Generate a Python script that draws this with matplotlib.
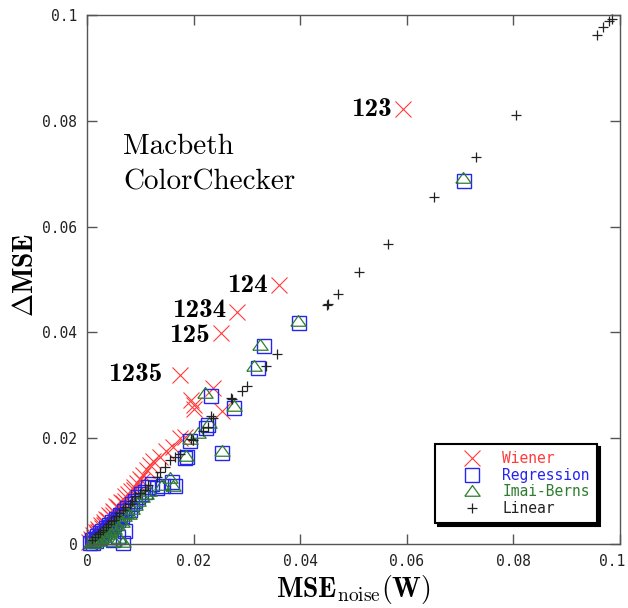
import matplotlib
matplotlib.use("Agg")
import matplotlib.pyplot as plt
from matplotlib.lines import Line2D
from matplotlib.transforms import ScaledTranslation

plt.rcParams['mathtext.fontset'] = 'cm'

# ---- data ----
wiener_x = [0.0592, 0.0360, 0.0282, 0.0252, 0.0175,
            0.0237, 0.0196, 0.0200, 0.0200, 0.0253, 0.0184, 0.0174, 0.0162, 0.0149, 0.0137, 0.0124, 0.0118,
            0.0004, 0.0007, 0.0009, 0.0012, 0.0014, 0.0016, 0.0019, 0.0021, 0.0023, 0.0026, 0.0028, 0.0031,
            0.0033, 0.0036, 0.0039, 0.0042, 0.0045, 0.0048, 0.0051, 0.0055, 0.0059, 0.0063, 0.0067, 0.0072,
            0.0077, 0.0082, 0.0088, 0.0094, 0.0100, 0.0106, 0.0112,
            0.0021, 0.0032, 0.0049, 0.0061, 0.0071, 0.0089, 0.0104]
wiener_y = [0.0822, 0.0489, 0.0438, 0.0398, 0.0320,
            0.0294, 0.0273, 0.0262, 0.0256, 0.0251, 0.0203, 0.0200, 0.0184, 0.0175, 0.0165, 0.0156, 0.0150,
            0.0003, 0.0010, 0.0006, 0.0017, 0.0012, 0.0022, 0.0018, 0.0029, 0.0024, 0.0035, 0.0031, 0.0042,
            0.0037, 0.0048, 0.0045, 0.0055, 0.0051, 0.0063, 0.0060, 0.0071, 0.0069, 0.0080, 0.0078, 0.0090,
            0.0095, 0.0101, 0.0108, 0.0116, 0.0122, 0.0131, 0.0139,
            0.0022, 0.0035, 0.0055, 0.0066, 0.0082, 0.0102, 0.0119]
combo_labels = ['123', '124', '1234', '125', '1235']  # first five Wiener points

regression_x = [0.0707, 0.0398, 0.0333, 0.0321, 0.0232, 0.0276, 0.0253, 0.0228, 0.0224, 0.0193, 0.0187,
                0.0184, 0.0165, 0.0159, 0.0143, 0.0131,
                0.0006, 0.0009, 0.0011, 0.0014, 0.0017, 0.0019, 0.0022, 0.0024, 0.0027, 0.0029, 0.0032,
                0.0035, 0.0038, 0.0041, 0.0044, 0.0047, 0.0050, 0.0054, 0.0058, 0.0062, 0.0066, 0.0070,
                0.0075, 0.0080, 0.0085, 0.0090, 0.0096, 0.0102, 0.0108, 0.0048, 0.0058, 0.0068, 0.0072,
                0.0115, 0.0122]
regression_y = [0.0686, 0.0418, 0.0374, 0.0332, 0.0279, 0.0257, 0.0172, 0.0225, 0.0219, 0.0194, 0.0165,
                0.0162, 0.0109, 0.0118, 0.0109, 0.0105,
                0.0002, 0.0007, 0.0001, 0.0010, 0.0005, 0.0015, 0.0011, 0.0020, 0.0016, 0.0025, 0.0021,
                0.0031, 0.0026, 0.0036, 0.0032, 0.0042, 0.0038, 0.0048, 0.0045, 0.0055, 0.0052, 0.0062,
                0.0068, 0.0065, 0.0076, 0.0082, 0.0089, 0.0094, 0.0099, 0.0008, 0.0013, 0.0002, 0.0024,
                0.0107, 0.0113]

imai_x = [0.0706, 0.0396, 0.0325, 0.0313, 0.0221, 0.0276, 0.0253, 0.0229, 0.0209, 0.0193, 0.0186,
          0.0156, 0.0141, 0.0162,
          0.0008, 0.0011, 0.0014, 0.0017, 0.0020, 0.0022, 0.0025, 0.0028, 0.0031, 0.0034, 0.0037,
          0.0040, 0.0043, 0.0046, 0.0050, 0.0053, 0.0057, 0.0061, 0.0065, 0.0069, 0.0074, 0.0079,
          0.0084, 0.0090, 0.0096, 0.0103, 0.0110, 0.0050, 0.0060, 0.0067, 0.0117]
imai_y = [0.0692, 0.0421, 0.0376, 0.0336, 0.0285, 0.0261, 0.0175, 0.0228, 0.0209, 0.0199, 0.0166,
          0.0124, 0.0112, 0.0110,
          0.0001, 0.0005, 0.0002, 0.0008, 0.0005, 0.0012, 0.0009, 0.0017, 0.0013, 0.0022, 0.0018,
          0.0027, 0.0023, 0.0032, 0.0029, 0.0038, 0.0035, 0.0045, 0.0042, 0.0052, 0.0058, 0.0056,
          0.0067, 0.0074, 0.0081, 0.0088, 0.0094, 0.0006, 0.0012, 0.0003, 0.0101]

linear_x = [0.0985, 0.0980, 0.0968, 0.0957, 0.0805, 0.0729, 0.0652, 0.0565, 0.0511, 0.0471, 0.0453,
            0.0451, 0.0356, 0.0335, 0.0300, 0.0290, 0.0271, 0.0273, 0.0237, 0.0233, 0.0228, 0.0217,
            0.0199, 0.0195, 0.0174, 0.0165, 0.0156, 0.0146, 0.0137, 0.0131, 0.0115, 0.0109, 0.0099,
            0.0090, 0.0085, 0.0080, 0.0072, 0.0068, 0.0060, 0.0055, 0.0050, 0.0045, 0.0040, 0.0035,
            0.0030, 0.0025, 0.0020, 0.0015, 0.0010]
linear_y = [0.0992, 0.0989, 0.0977, 0.0962, 0.0811, 0.0732, 0.0656, 0.0568, 0.0514, 0.0472, 0.0454,
            0.0452, 0.0359, 0.0336, 0.0299, 0.0290, 0.0276, 0.0274, 0.0238, 0.0241, 0.0222, 0.0214,
            0.0197, 0.0198, 0.0170, 0.0165, 0.0159, 0.0145, 0.0137, 0.0127, 0.0112, 0.0102, 0.0096,
            0.0090, 0.0082, 0.0075, 0.0070, 0.0064, 0.0058, 0.0052, 0.0046, 0.0043, 0.0037, 0.0032,
            0.0027, 0.0022, 0.0018, 0.0013, 0.0008]

tick_vals = [0, 0.02, 0.04, 0.06, 0.08, 0.1]
tick_text = ['0', '0.02', '0.04', '0.06', '0.08', '0.1']

# ---- styles ----
c_wiener, c_reg, c_imai, c_lin = '#ff3b3b', '#2525f0', '#2e7d2e', '#222222'
tri = [(-1, -0.62), (1, -0.62), (0, 0.78), (-1, -0.62)]

fig = plt.figure(figsize=(6.28, 6.08), dpi=100)
ax = fig.add_axes([0.1385, 0.1053, 0.8487, 0.870])

ax.plot(wiener_x, wiener_y, ls='none', marker='x', ms=11.5, mew=0.8, color=c_wiener, clip_on=False)
ax.plot(regression_x, regression_y, ls='none', marker='s', ms=10.5, mew=1.0, mfc='none', color=c_reg, clip_on=False)
ax.plot(imai_x, imai_y, ls='none', marker=tri, ms=11, mew=0.9, mfc='none', color=c_imai, clip_on=False)
ax.plot(linear_x, linear_y, ls='none', marker='+', ms=7, mew=0.9, color=c_lin, clip_on=False)

# label offsets (points): x gap left of the marker, small y nudge so 1234/125 don't collide
lab_dx = [-8, -8, -8, -8, -13]
lab_dy = [0, 0, 1.5, -1.5, 0]
for i, lab in enumerate(combo_labels):
    ax.annotate(lab, (wiener_x[i], wiener_y[i]), xytext=(lab_dx[i], lab_dy[i]), textcoords='offset points',
                ha='right', va='center', fontfamily='cmb10', fontsize=19.5)

ax.text(0.0675, 0.75, 'Macbeth', transform=ax.transAxes, fontfamily='cmr10', fontsize=21, va='center')
ax.text(0.0675, 0.683, 'ColorChecker', transform=ax.transAxes, fontfamily='cmr10', fontsize=21, va='center')

ax.set_xlim(0, 0.1)
ax.set_ylim(0, 0.1)
ax.set_xticks(tick_vals, tick_text)
ax.set_yticks(tick_vals, tick_text)
ax.tick_params(direction='in', top=True, right=True, length=7, width=1, color='#555555',
               labelcolor='#222222', labelsize=10.5, pad=7)
for lbl in ax.get_xticklabels() + ax.get_yticklabels():
    lbl.set_fontfamily('DejaVu Sans Mono')
# last x label sits a little left so it stays inside the picture
last = ax.get_xticklabels()[-1]
last.set_transform(last.get_transform() + ScaledTranslation(-6 / 72, 0, fig.dpi_scale_trans))
for sp in ax.spines.values():
    sp.set_color('#555555')
    sp.set_linewidth(1)

fig.text(25 / 628, 1 - 275 / 608, r'$\mathbf{\Delta MSE}$', rotation=90, ha='center', va='center', fontsize=20)
fig.text(353 / 628, 1 - 590 / 608, r'$\mathbf{MSE}_{\mathrm{noise}}\mathbf{(W)}$', ha='center', va='center', fontsize=20)

handles = [
    Line2D([], [], ls='none', marker='x', ms=11.5, mew=0.8, color=c_wiener),
    Line2D([], [], ls='none', marker='s', ms=10.5, mew=1.0, mfc='none', color=c_reg),
    Line2D([], [], ls='none', marker=tri, ms=11, mew=0.9, mfc='none', color=c_imai),
    Line2D([], [], ls='none', marker='+', ms=7, mew=0.9, color=c_lin),
]
names = ['Wiener', 'Regression', 'Imai-Berns', 'Linear']
leg = ax.legend(handles, names, loc='lower right', bbox_to_anchor=(0.957, 0.0397), borderaxespad=0,
                prop={'family': 'DejaVu Sans Mono', 'size': 10.5}, fancybox=False, framealpha=1,
                edgecolor='black', handlelength=4.0, handletextpad=0.1, labelspacing=0.1, borderpad=0.5,
                shadow={'facecolor': 'black', 'edgecolor': 'black', 'alpha': 1})
leg.get_frame().set_linewidth(1.5)
for t, c in zip(leg.get_texts(), [c_wiener, c_reg, c_imai, c_lin]):
    t.set_color(c)

fig.savefig('out.png', dpi=100)
